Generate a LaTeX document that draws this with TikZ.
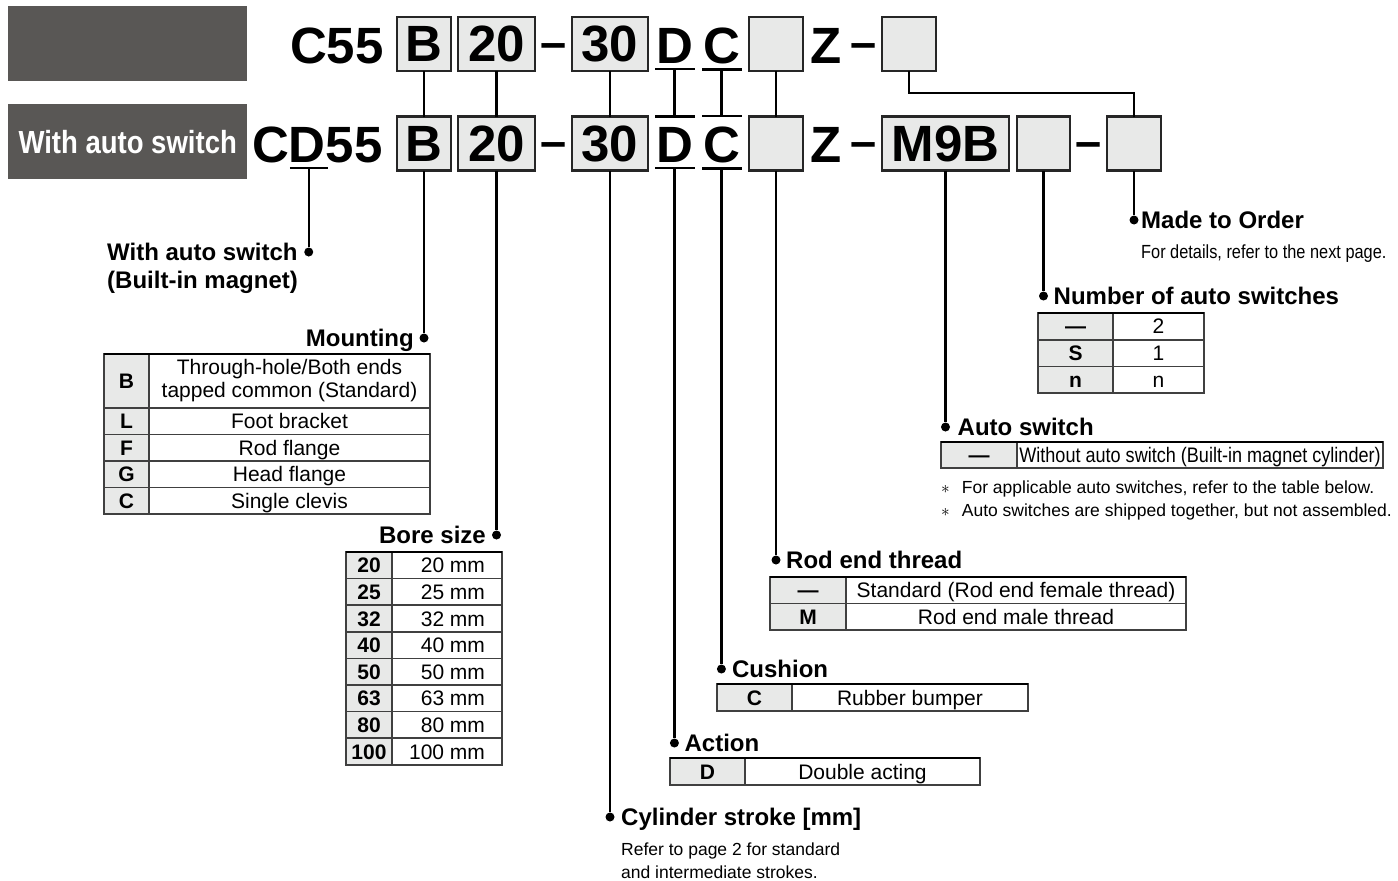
\documentclass[tikz,border=0pt]{standalone}
\usepackage{fontspec}
\setmainfont{Liberation Sans}
\newfontfamily\condfont{Liberation Sans}[FakeStretch=0.86]
\usetikzlibrary{positioning}
\definecolor{hdrgray}{RGB}{89,87,85}
\definecolor{cellgray}{RGB}{232,233,232}
\def\codefont{\fontsize{51}{51}\selectfont\bfseries}
\def\dashfont{\fontsize{47}{47}\selectfont\bfseries}
\def\hdrfont{\condfont\bfseries\fontsize{32}{32}\selectfont}
\def\headfont{\fontsize{24}{28}\selectfont\bfseries}
\def\cellfont{\fontsize{21}{23}\selectfont}
\def\cellbold{\fontsize{21}{23}\selectfont\bfseries}
\def\condcell{\condfont\fontsize{21}{23}\selectfont}
\def\notefont{\fontsize{17.5}{21}\selectfont}
\def\condnote{\condfont\fontsize{19}{21}\selectfont}
\def\bore#1{\makebox[76pt][r]{#1 mm}}
\tikzset{
	conn/.style={line width=2.3pt},
	topline/.style={line width=2.6pt},
	joint/.style={circle, fill=black, inner sep=0pt, minimum size=9pt},
	hdrbox/.style={fill=hdrgray, minimum width=239pt, minimum height=75pt, inner sep=0pt},
	codebox/.style={draw=black!85, fill=cellgray, line width=2.4pt, minimum height=54pt, inner sep=0pt, outer sep=0pt, font=\codefont},
	codetxt/.style={inner sep=0pt, outer sep=0pt, font=\codefont, anchor=base west},
	codedash/.style={inner sep=0pt, font=\dashfont},
	lblhead/.style={inner sep=0pt, font=\headfont, anchor=base west},
	note/.style={inner sep=0pt, font=\notefont, anchor=base west},
	cell/.style={draw=black!75, line width=1.6pt, inner sep=0pt, outer sep=0pt, minimum height=26.5pt, font=\cellfont},
	keycell/.style={cell, fill=cellgray, font=\cellbold, text height=15pt, text depth=0pt},
	valcell/.style={cell, text height=15pt, text depth=0pt},
}
\begin{document}
\begin{tikzpicture}[x=1pt, y=-1pt]
	%%%%% frame %%%%%
	\useasboundingbox (0,0) rectangle (1398,881);
	
	\node[hdrbox, anchor=north west] (hdrA) at (8,6) {};
	\node[hdrbox, anchor=north west, text=white, font=\hdrfont] (hdrB) at (8,104) {With auto switch};
	
	%%%%% code, first row %%%%%
	\node[codetxt] (c55) at (290,63) {C55};
	\node[codebox, minimum width=54pt] (bA) at (424,44) {B};
	\node[codebox, minimum width=77pt] (sA) at (496.5,44) {20};
	\node[codedash] (hA1) at (553.5,51) {–};
	\node[codebox, minimum width=76pt] (kA) at (610,44) {30};
	\node[codetxt] (dA) at (656,63) {D};
	\node[codetxt] (cA) at (703,63) {C};
	\node[codebox, minimum width=54pt] (rA) at (776,44) {};
	\node[codetxt] (zA) at (810,63) {Z};
	\node[codedash] (hA2) at (863.5,51) {–};
	\node[codebox, minimum width=54pt] (xA) at (909,44) {};
	
	%%%%% code, second row %%%%%
	\node[codetxt] (cdC) at (252,162.5) {C};
	\node[codetxt] (cdD) at (cdC.base east) {D};
	\node[codetxt] (cd55) at (cdD.base east) {55};
	\node[codebox, minimum width=54pt] (bB) at (424,143.5) {B};
	\node[codebox, minimum width=77pt] (sB) at (496.5,143.5) {20};
	\node[codedash] (hB1) at (553.5,150.5) {–};
	\node[codebox, minimum width=76pt] (kB) at (610,143.5) {30};
	\node[codetxt] (dB) at (656,162.5) {D};
	\node[codetxt] (cB) at (703,162.5) {C};
	\node[codebox, minimum width=54pt] (rB) at (776,143.5) {};
	\node[codetxt] (zB) at (810,162.5) {Z};
	\node[codedash] (hB2) at (863.5,150.5) {–};
	\node[codebox, minimum width=127pt] (mB) at (945.5,143.5) {M9B};
	\node[codebox, minimum width=53pt] (nB) at (1043.5,143.5) {};
	\node[codedash] (hB3) at (1088.5,150.5) {–};
	\node[codebox, minimum width=54pt] (oB) at (1134,143.5) {};
	
	% under and over lines
	\draw[conn] ([xshift=-1pt,yshift=-6pt]dA.south west) -- ([xshift=2pt,yshift=-6pt]dA.south east);
	\draw[conn] ([xshift=-1pt,yshift=-6pt]cA.south west) -- ([xshift=2pt,yshift=-6pt]cA.south east);
	\draw[conn] ([xshift=-1pt,yshift=11pt]dB.north west) -- ([xshift=2pt,yshift=11pt]dB.north east);
	\draw[conn] ([xshift=-1pt,yshift=11pt]cB.north west) -- ([xshift=2pt,yshift=11pt]cB.north east);
	\draw[conn] ([xshift=-1pt,yshift=-5.5pt]dB.south west) -- ([xshift=2pt,yshift=-5.5pt]dB.south east);
	\draw[conn] ([xshift=-1pt,yshift=-5.5pt]cB.south west) -- ([xshift=2pt,yshift=-5.5pt]cB.south east);
	\draw[conn] ([xshift=1pt,yshift=-5.5pt]cdD.south west) -- ([xshift=2pt,yshift=-5.5pt]cdD.south east);
	
	% first row to second row
	\draw[conn] (bA) -- (bB);
	\draw[conn] (sA) -- (sB);
	\draw[conn] (kA) -- (kB);
	\draw[conn] ([yshift=-6pt]dA.south) -- ([yshift=11pt]dB.north);
	\draw[conn] ([yshift=-6pt]cA.south) -- ([yshift=11pt]cB.north);
	\draw[conn] (rA) -- (rB);
	\draw[conn] (xA.south) -- ++(0,22) -| (oB.north);
	
	%%%%% joints and leaders %%%%%
	\node[joint] (jWas) at ([xshift=1.5pt]cdD.south |- 0,252) {};
	\node[joint] (jMnt) at (bB.south |- 0,338) {};
	\node[joint] (jBore) at (sB.south |- 0,535) {};
	\node[joint] (jStroke) at (kB.south |- 0,817) {};
	\node[joint] (jAct) at (dB.south |- 0,743) {};
	\node[joint] (jCush) at (cB.south |- 0,669) {};
	\node[joint] (jRod) at (rB.south |- 0,560) {};
	\node[joint] (jSw) at (mB.south |- 0,427) {};
	\node[joint] (jNum) at (nB.south |- 0,296) {};
	\node[joint] (jMto) at (oB.south |- 0,220) {};
	
	\draw[conn] ([xshift=1.5pt,yshift=-5.5pt]cdD.south) -- (jWas);
	\draw[conn] (bB) -- (jMnt);
	\draw[conn] (sB) -- (jBore);
	\draw[conn] (kB) -- (jStroke);
	\draw[conn] ([yshift=-5.5pt]dB.south) -- (jAct);
	\draw[conn] ([yshift=-5.5pt]cB.south) -- (jCush);
	\draw[conn] (rB) -- (jRod);
	\draw[conn] (mB) -- (jSw);
	\draw[conn] (nB) -- (jNum);
	\draw[conn] (oB) -- (jMto);
	
	%%%%% headings %%%%%
	\node[lblhead] (tWas) at (107,260) {With auto switch};
	\node[lblhead] (tWasB) at (107,288) {(Built-in magnet)};
	\node[lblhead, anchor=base east] (tMnt) at ([xshift=-10pt,yshift=-8.6pt]jMnt.center) {Mounting};
	\node[lblhead, anchor=base east] (tBore) at ([xshift=-10.5pt,yshift=-8.6pt]jBore.center) {Bore size};
	\node[lblhead] (tMto) at ([xshift=7pt,yshift=-8.6pt]jMto.center) {Made to Order};
	\node[lblhead] (tNum) at ([xshift=10pt,yshift=-8.6pt]jNum.center) {Number of auto switches};
	\node[lblhead] (tSw) at ([xshift=12pt,yshift=-8.6pt]jSw.center) {Auto switch};
	\node[lblhead] (tRod) at ([xshift=10pt,yshift=-8.6pt]jRod.center) {Rod end thread};
	\node[lblhead] (tCush) at ([xshift=10.5pt,yshift=-8.6pt]jCush.center) {Cushion};
	\node[lblhead] (tAct) at ([xshift=10pt,yshift=-8.6pt]jAct.center) {Action};
	\node[lblhead] (tStroke) at ([xshift=11pt,yshift=-8.6pt]jStroke.center) {Cylinder stroke [mm]};
	
	\node[note, font=\condnote] (tMtoB) at (1141,258) {For details, refer to the next page.};
	\node[note] (tStrokeB) at (621,855) {Refer to page 2 for standard};
	\node[note] (tStrokeC) at (621,878) {and intermediate strokes.};
	\node[note] (tSwB) at (941,493) {$\ast$\hspace{12pt}For applicable auto switches, refer to the table below.};
	\node[note] (tSwC) at (941,516) {$\ast$\hspace{12pt}Auto switches are shipped together, but not assembled.};
	
	%%%%% mounting table %%%%%
	\node[cell, fill=cellgray, font=\cellbold, minimum width=45pt, minimum height=54pt, anchor=north west] (mtB) at (104,354) {B};
	\node[cell, align=center, minimum width=281pt, minimum height=54pt, right=0pt of mtB] (mtBv) {Through-hole/Both ends\\tapped common (Standard)};
	\node[keycell, minimum width=45pt, below=0pt of mtB] (mtL) {L};
	\node[valcell, minimum width=281pt, right=0pt of mtL] (mtLv) {Foot bracket};
	\node[keycell, minimum width=45pt, below=0pt of mtL] (mtF) {F};
	\node[valcell, minimum width=281pt, right=0pt of mtF] (mtFv) {Rod flange};
	\node[keycell, minimum width=45pt, below=0pt of mtF] (mtG) {G};
	\node[valcell, minimum width=281pt, right=0pt of mtG] (mtGv) {Head flange};
	\node[keycell, minimum width=45pt, below=0pt of mtG] (mtC) {C};
	\node[valcell, minimum width=281pt, right=0pt of mtC] (mtCv) {Single clevis};
	\draw[topline] (mtB.north west) -- (mtBv.north east);
	
	%%%%% bore size table %%%%%
	\node[keycell, minimum width=46pt, minimum height=26.6pt, anchor=north west] (bs20) at (346,552) {20};
	\node[valcell, minimum width=110pt, minimum height=26.6pt, right=0pt of bs20] (bs20v) {\bore{20}};
	\node[keycell, minimum width=46pt, minimum height=26.6pt, below=0pt of bs20] (bs25) {25};
	\node[valcell, minimum width=110pt, minimum height=26.6pt, right=0pt of bs25] (bs25v) {\bore{25}};
	\node[keycell, minimum width=46pt, minimum height=26.6pt, below=0pt of bs25] (bs32) {32};
	\node[valcell, minimum width=110pt, minimum height=26.6pt, right=0pt of bs32] (bs32v) {\bore{32}};
	\node[keycell, minimum width=46pt, minimum height=26.6pt, below=0pt of bs32] (bs40) {40};
	\node[valcell, minimum width=110pt, minimum height=26.6pt, right=0pt of bs40] (bs40v) {\bore{40}};
	\node[keycell, minimum width=46pt, minimum height=26.6pt, below=0pt of bs40] (bs50) {50};
	\node[valcell, minimum width=110pt, minimum height=26.6pt, right=0pt of bs50] (bs50v) {\bore{50}};
	\node[keycell, minimum width=46pt, minimum height=26.6pt, below=0pt of bs50] (bs63) {63};
	\node[valcell, minimum width=110pt, minimum height=26.6pt, right=0pt of bs63] (bs63v) {\bore{63}};
	\node[keycell, minimum width=46pt, minimum height=26.6pt, below=0pt of bs63] (bs80) {80};
	\node[valcell, minimum width=110pt, minimum height=26.6pt, right=0pt of bs80] (bs80v) {\bore{80}};
	\node[keycell, minimum width=46pt, minimum height=26.6pt, below=0pt of bs80] (bs100) {100};
	\node[valcell, minimum width=110pt, minimum height=26.6pt, right=0pt of bs100] (bs100v) {\bore{100}};
	\draw[topline] (bs20.north west) -- (bs20v.north east);
	
	%%%%% number of auto switches %%%%%
	\node[keycell, minimum width=75pt, minimum height=26.7pt, anchor=north west] (nsA) at (1038,313) {—};
	\node[valcell, minimum width=91pt, minimum height=26.7pt, right=0pt of nsA] (nsAv) {2};
	\node[keycell, minimum width=75pt, minimum height=26.7pt, below=0pt of nsA] (nsS) {S};
	\node[valcell, minimum width=91pt, minimum height=26.7pt, right=0pt of nsS] (nsSv) {1};
	\node[keycell, minimum width=75pt, minimum height=26.7pt, below=0pt of nsS] (nsN) {n};
	\node[valcell, minimum width=91pt, minimum height=26.7pt, right=0pt of nsN] (nsNv) {n};
	\draw[topline] (nsA.north west) -- (nsAv.north east);
	
	%%%%% auto switch %%%%%
	\node[keycell, minimum width=76pt, minimum height=26pt, anchor=north west] (swA) at (941,442) {—};
	\node[valcell, font=\condcell, minimum width=366pt, minimum height=26pt, right=0pt of swA] (swAv) {Without auto switch (Built-in magnet cylinder)};
	\draw[topline] (swA.north west) -- (swAv.north east);
	
	%%%%% rod end thread %%%%%
	\node[keycell, minimum width=76pt, anchor=north west] (rtA) at (770,577) {—};
	\node[valcell, minimum width=340pt, right=0pt of rtA] (rtAv) {Standard (Rod end female thread)};
	\node[keycell, minimum width=76pt, below=0pt of rtA] (rtM) {M};
	\node[valcell, minimum width=340pt, right=0pt of rtM] (rtMv) {Rod end male thread};
	\draw[topline] (rtA.north west) -- (rtAv.north east);
	
	%%%%% cushion %%%%%
	\node[keycell, minimum width=75pt, minimum height=27pt, anchor=north west] (cuC) at (717,684) {C};
	\node[valcell, minimum width=236pt, minimum height=27pt, right=0pt of cuC] (cuCv) {Rubber bumper};
	\draw[topline] (cuC.north west) -- (cuCv.north east);
	
	%%%%% action %%%%%
	\node[keycell, minimum width=75pt, minimum height=27pt, anchor=north west] (acD) at (670,758) {D};
	\node[valcell, minimum width=235pt, minimum height=27pt, right=0pt of acD] (acDv) {Double acting};
	\draw[topline] (acD.north west) -- (acDv.north east);
\end{tikzpicture}
\end{document}
